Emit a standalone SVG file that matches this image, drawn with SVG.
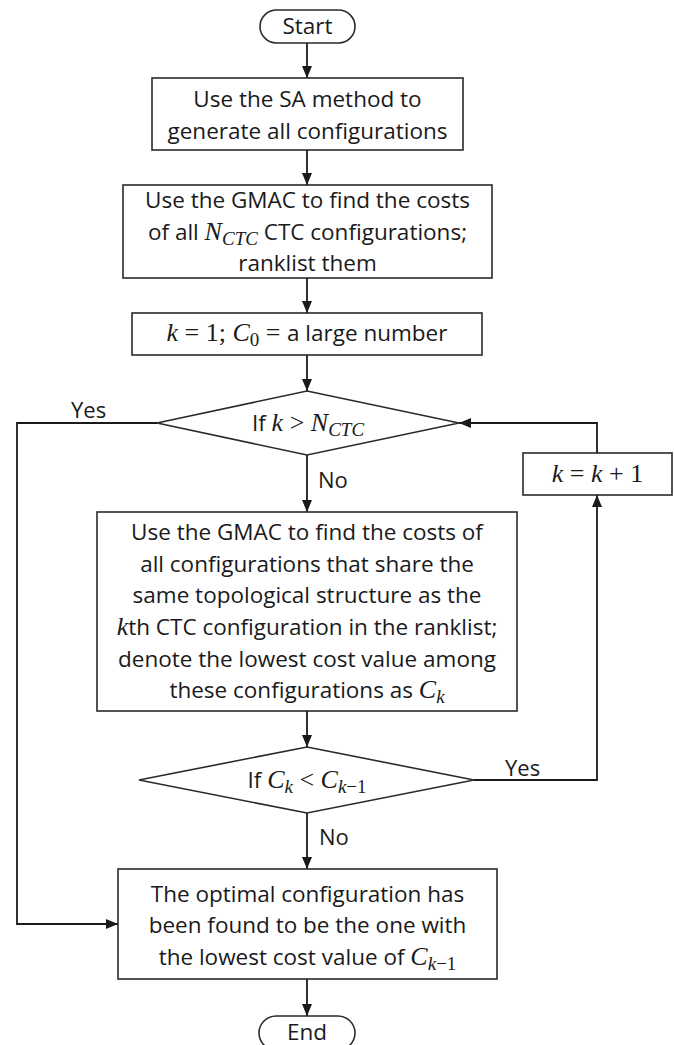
<svg xmlns="http://www.w3.org/2000/svg" width="674" height="1045" viewBox="0 0 674 1045">
<style>
.box{fill:#fff;stroke:#2a2a2a;stroke-width:1.6}
.t{font-family:"Open Sans","Liberation Sans",Arial,sans-serif;font-size:22.5px;fill:#1a1a1a;text-anchor:middle}
.tl{font-family:"Open Sans","Liberation Sans",Arial,sans-serif;font-size:22px;fill:#1a1a1a}
.m{font-family:"Liberation Serif","Times New Roman",serif;font-style:italic;font-size:26px}
.mu{font-family:"Liberation Serif","Times New Roman",serif;font-size:26px}
.s{font-family:"Liberation Serif","Times New Roman",serif;font-style:italic;font-size:19px}
.su{font-family:"Liberation Serif","Times New Roman",serif;font-size:19px}
.c{fill:none;stroke:#1a1a1a;stroke-width:1.8}
</style>
<defs>
<marker id="ah" viewBox="0 0 12 10" refX="12" refY="5" markerWidth="12" markerHeight="10" markerUnits="userSpaceOnUse" orient="auto">
<path d="M0,0 L12,5 L0,10 z" fill="#1a1a1a"/>
</marker>
</defs>

<g id="connectors">
<line class="c" x1="307" y1="43" x2="307" y2="78" marker-end="url(#ah)"/>
<line class="c" x1="307" y1="150" x2="307" y2="185" marker-end="url(#ah)"/>
<line class="c" x1="307" y1="278" x2="307" y2="313" marker-end="url(#ah)"/>
<line class="c" x1="307" y1="355" x2="307" y2="391" marker-end="url(#ah)"/>
<line class="c" x1="307" y1="455" x2="307" y2="512" marker-end="url(#ah)"/>
<line class="c" x1="307" y1="711" x2="307" y2="747" marker-end="url(#ah)"/>
<line class="c" x1="307" y1="813" x2="307" y2="869" marker-end="url(#ah)"/>
<line class="c" x1="307" y1="979" x2="307" y2="1016" marker-end="url(#ah)"/>
<polyline class="c" points="157,423 17,423 17,924 118,924" marker-end="url(#ah)"/>
<polyline class="c" points="474,780 597,780 597,495" marker-end="url(#ah)"/>
<polyline class="c" points="597,453 597,423 459,423" marker-end="url(#ah)"/>
<text class="tl" x="71" y="418">Yes</text>
<text class="tl" x="318" y="488">No</text>
<text class="tl" x="505" y="776">Yes</text>
<text class="tl" x="319" y="845">No</text>
</g>

<g id="start">
<rect class="box" x="260" y="10" width="95" height="33" rx="16.5"/>
<text class="t" x="307.5" y="34">Start</text>
</g>

<g id="generate">
<rect class="box" x="152" y="78" width="311" height="72"/>
<text class="t" x="307.5" y="107">Use the SA method to</text>
<text class="t" x="307.5" y="139">generate all configurations</text>
</g>

<g id="rank">
<rect class="box" x="123" y="185" width="369" height="93"/>
<text class="t" x="307.5" y="208">Use the GMAC to find the costs</text>
<text class="t" x="307.5" y="240">of all <tspan class="m">N</tspan><tspan class="s" dy="5">CTC</tspan><tspan dy="-5"> CTC configurations;</tspan></text>
<text class="t" x="307.5" y="271">ranklist them</text>
</g>

<g id="init">
<rect class="box" x="132" y="313" width="350" height="42"/>
<text class="t" x="307" y="341"><tspan class="m">k</tspan><tspan class="mu"> = 1; </tspan><tspan class="m">C</tspan><tspan class="su" dy="5">0</tspan><tspan class="mu" dy="-5"> = </tspan>a large number</text>
</g>

<g id="decision1">
<polygon class="box" points="307,391 459,423 307,455 157,423"/>
<text class="t" x="308" y="431">If <tspan class="m">k</tspan><tspan class="mu"> &gt; </tspan><tspan class="m">N</tspan><tspan class="s" dy="5">CTC</tspan></text>
</g>

<g id="increment">
<rect class="box" x="523" y="453" width="149" height="42"/>
<text class="t" x="597.5" y="482"><tspan class="m">k</tspan><tspan class="mu"> = </tspan><tspan class="m">k</tspan><tspan class="mu"> + 1</tspan></text>
</g>

<g id="evaluate">
<rect class="box" x="97" y="512" width="420" height="199"/>
<text class="t" x="307" y="540">Use the GMAC to find the costs of</text>
<text class="t" x="307" y="572">all configurations that share the</text>
<text class="t" x="307" y="603">same topological structure as the</text>
<text class="t" x="307" y="635"><tspan class="m">k</tspan>th CTC configuration in the ranklist;</text>
<text class="t" x="307" y="667">denote the lowest cost value among</text>
<text class="t" x="307" y="698">these configurations as <tspan class="m">C</tspan><tspan class="s" dy="5">k</tspan></text>
</g>

<g id="decision2">
<polygon class="box" points="307,747 474,780 307,813 139,780"/>
<text class="t" x="307" y="788">If <tspan class="m">C</tspan><tspan class="s" dy="5">k</tspan><tspan class="mu" dy="-5"> &lt; </tspan><tspan class="m">C</tspan><tspan class="s" dy="5">k</tspan><tspan class="su">−1</tspan></text>
</g>

<g id="result">
<rect class="box" x="118" y="869" width="379" height="110"/>
<text class="t" x="307.5" y="902">The optimal configuration has</text>
<text class="t" x="307.5" y="933">been found to be the one with</text>
<text class="t" x="307.5" y="965">the lowest cost value of <tspan class="m">C</tspan><tspan class="s" dy="5">k</tspan><tspan class="su">−1</tspan></text>
</g>

<g id="end">
<rect class="box" x="259" y="1016" width="96" height="34" rx="17"/>
<text class="t" x="307" y="1040">End</text>
</g>
</svg>
